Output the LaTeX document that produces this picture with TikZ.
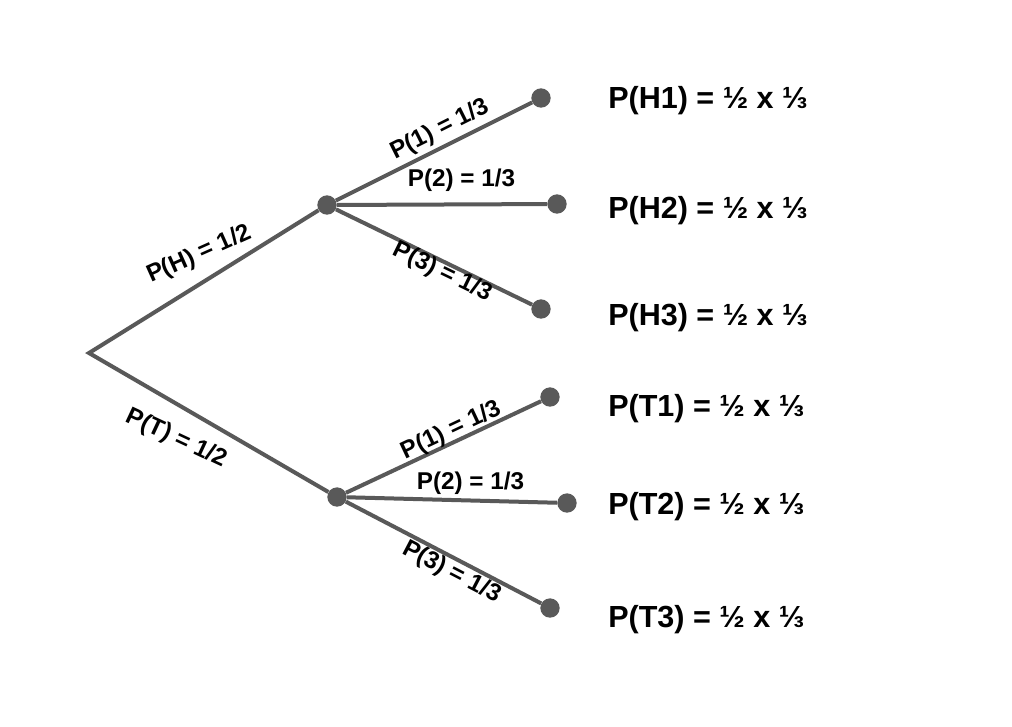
\documentclass[tikz,border=0pt]{standalone}
\usepackage{fontspec}
\setmainfont{Liberation Sans}
\definecolor{branch}{HTML}{595959}
\begin{document}
\begin{tikzpicture}[x=0.75pt,y=-0.75pt,
  dot/.style={circle,fill=branch,draw=none,minimum size=14.5pt,inner sep=0pt},
  edge/.style={draw=branch,line width=3pt},
  lab/.style={inner sep=0pt,text height=0.716em,text depth=0pt,font=\fontsize{18.2}{20}\selectfont\bfseries},
  res/.style={inner sep=0pt,anchor=base west,font=\fontsize{22.9}{26}\selectfont\bfseries}]
\useasboundingbox[fill=white] (0,0) rectangle (1012,726);
% tree points
\coordinate (root) at (89,353);
\node[dot] (mh) at (327,205) {};
\node[dot] (mt) at (337,497) {};
\node[dot] (h1) at (541,98) {};
\node[dot] (h2) at (557,204) {};
\node[dot] (h3) at (541,309) {};
\node[dot] (t1) at (550,397) {};
\node[dot] (t2) at (567,503) {};
\node[dot] (t3) at (550,608) {};
% connectors
\draw[edge] (mh) -- (root) -- (mt);
\draw[edge] (mh) -- (h1);
\draw[edge] (mh) -- (h2);
\draw[edge] (mh) -- (h3);
\draw[edge] (mt) -- (t1);
\draw[edge] (mt) -- (t2);
\draw[edge] (mt) -- (t3);
% edge labels
\node[lab,rotate=24] (lH) at (200,256) {P(H) = 1/2};
\node[lab,rotate=-25] (lT) at (176,440) {P(T) = 1/2};
\node[lab,rotate=26.6] (lh1) at (441,131) {P(1) = 1/3};
\node[lab] (lh2) at (461.5,182) {P(2) = 1/3};
\node[lab,rotate=-25.9] (lh3) at (442,274) {P(3) = 1/3};
\node[lab,rotate=25.2] (lt1) at (452,432) {P(1) = 1/3};
\node[lab] (lt2) at (470.5,485) {P(2) = 1/3};
\node[lab,rotate=-27.5] (lt3) at (451,574) {P(3) = 1/3};
% results
\node[res] (rh1) at (608,108) {P(H1) = ½ x ⅓};
\node[res] (rh2) at (608,218) {P(H2) = ½ x ⅓};
\node[res] (rh3) at (608,325) {P(H3) = ½ x ⅓};
\node[res] (rt1) at (608,416) {P(T1) = ½ x ⅓};
\node[res] (rt2) at (608,514) {P(T2) = ½ x ⅓};
\node[res] (rt3) at (608,627) {P(T3) = ½ x ⅓};
\end{tikzpicture}
\end{document}
